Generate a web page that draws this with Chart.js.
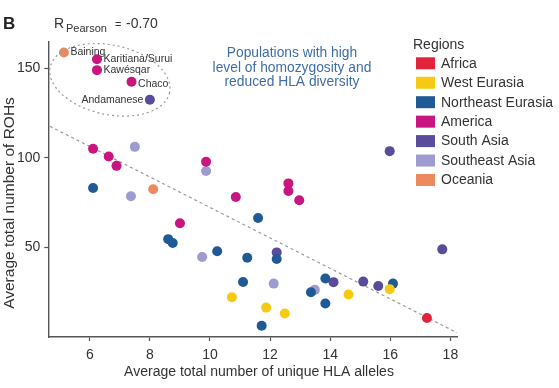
<!DOCTYPE html>
<html lang="en">
<head>
<meta charset="UTF-8">
<title>ROHs vs HLA alleles</title>
<script src="https://cdn.jsdelivr.net/npm/chart.js"></script>
<style>
  html, body { margin: 0; padding: 0; background: #fff; }
  #wrap { width: 559px; height: 388px; }
</style>
</head>
<body>
<div id="wrap"><canvas id="grafico"></canvas></div>
<script>
// regions and colours
const regioes = ['Africa', 'West Eurasia', 'Northeast Eurasia', 'America', 'South Asia', 'Southeast Asia', 'Oceania'];
const cores = ['#e0243c', '#f6c913', '#1f5a96', '#c8157f', '#5a4b9b', '#9d9bd0', '#eb8a5f'];

// [HLA alleles, ROHs]
const africa = [[17.22, 10.6]];
const westEurasia = [[10.73, 22.2], [11.87, 16.4], [12.49, 13.1], [14.61, 23.7], [15.98, 26.7]];
const northeastEurasia = [[6.11, 83.1], [8.61, 54.6], [8.76, 52.4], [10.24, 47.8], [11.24, 44.2], [11.1, 30.7],
  [11.6, 66.4], [11.72, 6.3], [12.22, 43.5], [13.84, 32.6], [13.36, 25], [13.84, 18.7], [16.09, 29.8]];
const america = [[6.24, 155], [6.24, 148.9], [7.39, 142.4], [6.11, 105], [6.63, 100.7], [6.89, 95.5],
  [9.87, 97.8], [10.86, 78.1], [9.0, 63.5], [12.61, 85.7], [12.61, 81.5], [12.97, 76.3]];
const southAsia = [[8.0, 132.4], [15.98, 103.7], [17.73, 48.9], [12.22, 47.2], [14.11, 30.6], [15.1, 30.9], [15.6, 28.5]];
const southeastAsia = [[7.5, 106.1], [7.37, 78.5], [9.87, 92.6], [9.74, 44.6], [12.12, 29.8], [13.49, 26.3]];
const oceania = [[5.14, 158.7], [8.11, 82.4]];

const porRegiao = [africa, westEurasia, northeastEurasia, america, southAsia, southeastAsia, oceania];

// named populations: name, x, y, side of the label
const nomeados = [
  ['Baining', 5.14, 158.7, 'r'],
  ['Karitiana/Surui', 6.24, 155, 'r'],
  ['Kawésqar', 6.24, 148.9, 'r'],
  ['Chaco', 7.39, 142.4, 'r'],
  ['Andamanese', 8.0, 132.4, 'l']
];

// fitted line ends
const reta = [[4.67, 117.6], [18.22, 2.4]];

const xTicks = [6, 8, 10, 12, 14, 16, 18];
const yTicks = [50, 100, 150];

const fonte = '"Liberation Sans", Arial, Helvetica, sans-serif';
const cinza = '#555';
const texto = '#333';

const datasets = regioes.map((r, i) => ({
  label: r,
  data: porRegiao[i].map(p => ({ x: p[0], y: p[1] })),
  backgroundColor: cores[i],
  borderWidth: 0,
  pointRadius: 5,
  pointHoverRadius: 5,
  order: 0
}));

datasets.push({
  type: 'line',
  label: 'fit',
  data: reta.map(p => ({ x: p[0], y: p[1] })),
  borderColor: '#9a9a9a',
  borderWidth: 1.2,
  borderDash: [3, 3],
  pointRadius: 0,
  fill: false,
  order: 1
});

const anotacoes = {
  id: 'anotacoes',
  afterDraw(chart) {
    const ctx = chart.ctx;
    const xs = chart.scales.x, ys = chart.scales.y;
    ctx.save();

    // panel letter
    ctx.fillStyle = '#222';
    ctx.font = 'bold 17px ' + fonte;
    ctx.textBaseline = 'middle';
    ctx.textAlign = 'left';
    ctx.fillText('B', 3, 24);

    // R Pearson
    ctx.fillStyle = texto;
    ctx.font = '14px ' + fonte;
    ctx.fillText('R', 54, 24);
    ctx.font = '11px ' + fonte;
    ctx.fillText('Pearson', 66, 28.5);
    ctx.font = '11px ' + fonte;
    ctx.fillText('=', 115, 25);
    ctx.font = '14px ' + fonte;
    ctx.fillText('-0.70', 126, 24);

    // dotted ellipse around the group
    const cx = xs.getPixelForValue(6.67), cy = ys.getPixelForValue(143.5);
    const rx = xs.getPixelForValue(6.67 + 2.03) - cx;
    const ry = ys.getPixelForValue(143.5) - ys.getPixelForValue(143.5 + 19.4);
    ctx.beginPath();
    ctx.ellipse(cx, cy, rx, ry, 12 * Math.PI / 180, 0, Math.PI * 2);
    ctx.setLineDash([2, 3]);
    ctx.strokeStyle = '#9a9a9a';
    ctx.lineWidth = 1.2;
    ctx.stroke();
    ctx.setLineDash([]);

    // names of populations
    ctx.font = '10.5px ' + fonte;
    ctx.fillStyle = texto;
    nomeados.forEach(n => {
      const px = xs.getPixelForValue(n[1]), py = ys.getPixelForValue(n[2]);
      if (n[3] === 'r') {
        ctx.textAlign = 'left';
        ctx.fillText(n[0], px + 6.5, py + (n[0] === 'Chaco' ? 2 : 0));
      } else {
        ctx.textAlign = 'right';
        ctx.fillText(n[0], px - 6.5, py);
      }
    });

    // blue note
    ctx.fillStyle = '#3f6ea6';
    ctx.font = '13.8px ' + fonte;
    ctx.textAlign = 'center';
    ['Populations with high', 'level of homozygosity and', 'reduced HLA diversity']
      .forEach((l, i) => ctx.fillText(l, 292, 53.5 + i * 14.2));

    // legend
    ctx.textAlign = 'left';
    ctx.fillStyle = texto;
    ctx.font = '14px ' + fonte;
    ctx.fillText('Regions', 413, 45);
    regioes.forEach((r, i) => {
      const y = 63.3 + i * 19.45;
      ctx.fillStyle = cores[i];
      ctx.fillRect(416, y - 6, 19, 12);
      ctx.fillStyle = texto;
      ctx.fillText(r, 441, y + 0.5);
    });

    // axis titles
    ctx.textAlign = 'center';
    ctx.fillText('Average total number of unique HLA alleles', 259, 372);
    ctx.translate(10, 203);
    ctx.rotate(-Math.PI / 2);
    ctx.font = '15.5px ' + fonte;
    ctx.fillText('Average total number of ROHs', 0, 0);
    ctx.restore();
  }
};

new Chart(document.getElementById('grafico'), {
  type: 'scatter',
  data: { datasets: datasets },
  options: {
    responsive: true,
    maintainAspectRatio: false,
    animation: false,
    devicePixelRatio: 1,
    layout: { padding: { top: 42, right: 102, left: 0, bottom: 0 } },
    plugins: {
      legend: { display: false },
      tooltip: { enabled: false }
    },
    scales: {
      x: {
        type: 'linear',
        min: 4.62,
        max: 18.22,
        afterBuildTicks: axis => { axis.ticks = xTicks.map(v => ({ value: v })); },
        afterFit: axis => { axis.height = 51; },
        grid: { display: true, drawOnChartArea: false, drawTicks: true, tickLength: 4, tickColor: cinza, tickWidth: 1.2 },
        border: { display: true, color: cinza, width: 1.4 },
        ticks: { color: texto, font: { family: fonte, size: 14 }, padding: 6, maxRotation: 0 }
      },
      y: {
        type: 'linear',
        min: 0,
        max: 164.6,
        afterBuildTicks: axis => { axis.ticks = yTicks.map(v => ({ value: v })); },
        afterFit: axis => { axis.width = 48.3; },
        grid: { display: true, drawOnChartArea: false, drawTicks: true, tickLength: 4, tickColor: cinza, tickWidth: 1.2 },
        border: { display: true, color: cinza, width: 1.4 },
        ticks: { color: texto, font: { family: fonte, size: 14 }, padding: 4 }
      }
    }
  },
  plugins: [anotacoes]
});
</script>
</body>
</html>
